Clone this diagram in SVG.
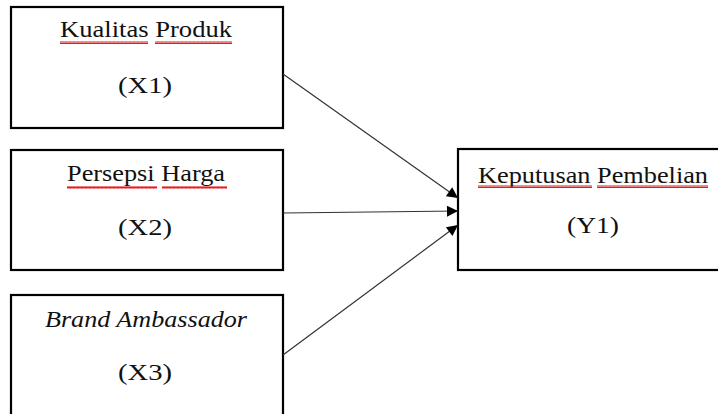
<svg xmlns="http://www.w3.org/2000/svg" width="718" height="414" viewBox="0 0 718 414" font-family="Liberation Serif, serif">
<defs>
<style>
.box{fill:#fff;stroke:#000;stroke-width:2.2}
.t{font-size:24px;fill:#111;text-anchor:middle}
.it{font-style:italic}
.con{stroke:#333;stroke-width:1.2;fill:none;marker-end:url(#ah)}
.wv{fill:url(#wave)}
</style>
<marker id="ah" viewBox="0 0 10 10" refX="10" refY="5" markerWidth="13" markerHeight="11" markerUnits="userSpaceOnUse" orient="auto">
<path d="M0 0 L10 5 L0 10 Z" fill="#000"/>
</marker>
<pattern id="wave" x="0" y="0" width="4" height="3" patternUnits="userSpaceOnUse">
<path d="M0 2.4 L1 0.6 L2 2.4 L3 0.6 L4 2.4" stroke="#e8161b" stroke-width="1.1" fill="none"/>
</pattern>
</defs>
<g id="x1">
<rect class="box" x="11" y="7" width="272" height="121"/>
<text class="t" font-family="Liberation Serif, serif" x="146" y="37" textLength="172" lengthAdjust="spacingAndGlyphs">Kualitas Produk</text>
<rect class="wv" x="60" y="41" width="88" height="3"/>
<rect class="wv" x="155" y="41" width="77" height="3"/>
<text class="t" font-family="Liberation Serif, serif" x="145" y="93" textLength="54" lengthAdjust="spacingAndGlyphs">(X1)</text>
</g>
<g id="x2">
<rect class="box" x="11" y="150" width="272" height="120"/>
<text class="t" font-family="Liberation Serif, serif" x="146" y="181" textLength="158" lengthAdjust="spacingAndGlyphs">Persepsi Harga</text>
<rect class="wv" x="67" y="186" width="90" height="3"/>
<rect class="wv" x="162" y="186" width="65" height="3"/>
<text class="t" font-family="Liberation Serif, serif" x="145" y="235" textLength="54" lengthAdjust="spacingAndGlyphs">(X2)</text>
</g>
<g id="x3">
<rect class="box" x="11" y="295" width="272" height="130"/>
<text class="t it" font-family="Liberation Serif, serif" x="146" y="327" textLength="202" lengthAdjust="spacingAndGlyphs">Brand Ambassador</text>
<text class="t" font-family="Liberation Serif, serif" x="145" y="380" textLength="54" lengthAdjust="spacingAndGlyphs">(X3)</text>
</g>
<g id="y1">
<rect class="box" x="458" y="149" width="270" height="121"/>
<text class="t" font-family="Liberation Serif, serif" x="593" y="183" textLength="230" lengthAdjust="spacingAndGlyphs">Keputusan Pembelian</text>
<rect class="wv" x="478" y="185" width="114" height="3"/>
<rect class="wv" x="597" y="185" width="111" height="3"/>
<text class="t" font-family="Liberation Serif, serif" x="593" y="233" textLength="52" lengthAdjust="spacingAndGlyphs">(Y1)</text>
</g>
<g id="connectors">
<line class="con" x1="283" y1="74" x2="458" y2="198"/>
<line class="con" x1="283" y1="213" x2="458" y2="211"/>
<line class="con" x1="283" y1="355" x2="458" y2="225"/>
</g>
</svg>
